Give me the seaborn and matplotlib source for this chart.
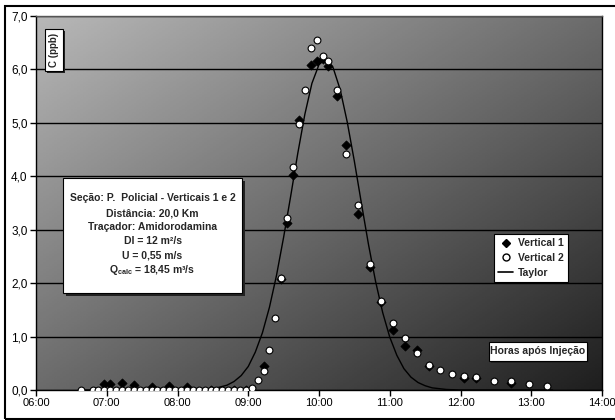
import numpy as np
import pandas as pd
import matplotlib
matplotlib.use('Agg')
import matplotlib.pyplot as plt
import seaborn as sns
from matplotlib.patches import Rectangle
from matplotlib.lines import Line2D

# Vertical 2 (open circles), time after injection and concentration (ppb)
v2_time = ['06:38', '06:48', '06:53', '06:58', '07:03', '07:08', '07:13', '07:18', '07:23',
           '07:28', '07:33', '07:38', '07:43', '07:48', '07:53', '07:58', '08:03', '08:08',
           '08:13', '08:18', '08:23', '08:28', '08:33', '08:38', '08:43', '08:48', '08:53',
           '08:58', '09:03', '09:08', '09:13', '09:18', '09:23', '09:28', '09:33', '09:38',
           '09:43', '09:48', '09:53', '09:58', '10:03', '10:08', '10:15', '10:23', '10:33',
           '10:43', '10:53', '11:03', '11:13', '11:23', '11:33', '11:43', '11:53', '12:03',
           '12:13', '12:28', '12:43', '12:58', '13:13']
v2_conc = [0.0, 0.0, 0.0, 0.0, 0.0, 0.0, 0.0, 0.0, 0.0,
           0.0, 0.0, 0.0, 0.0, 0.0, 0.0, 0.0, 0.0, 0.0,
           0.0, 0.0, 0.0, 0.0, 0.0, 0.0, 0.0, 0.0, 0.0,
           0.0, 0.04, 0.19, 0.36, 0.75, 1.35, 2.10, 3.22, 4.17,
           4.97, 5.61, 6.40, 6.56, 6.25, 6.16, 5.61, 4.41, 3.46,
           2.35, 1.67, 1.25, 0.97, 0.70, 0.47, 0.37, 0.30, 0.26,
           0.25, 0.17, 0.16, 0.11, 0.08]

# Vertical 1 (black diamonds)
v1_time = ['06:58', '07:03', '07:13', '07:23', '07:38', '07:53', '08:08', '08:28', '08:48',
           '08:58', '09:13', '09:28', '09:33', '09:38', '09:43', '09:53', '09:58', '10:03',
           '10:08', '10:15', '10:23', '10:33', '10:43', '10:53', '11:03', '11:13', '11:23',
           '11:33', '12:03', '12:13', '12:43']
v1_conc = [0.12, 0.12, 0.13, 0.10, 0.06, 0.08, 0.05, 0.0, 0.0,
           0.0, 0.45, 2.07, 3.13, 4.02, 5.06, 6.09, 6.16, 6.20,
           6.07, 5.50, 4.58, 3.29, 2.30, 1.65, 1.12, 0.83, 0.75,
           0.45, 0.22, 0.22, 0.14]

# Taylor model curve (hours, ppb)
taylor_h = [6.63, 8.0, 8.5, 8.7, 8.8, 8.9, 9.0, 9.1, 9.2, 9.3, 9.4, 9.5, 9.6, 9.7,
            9.8, 9.9, 10.0, 10.1, 10.2, 10.3, 10.4, 10.5, 10.6, 10.7, 10.8, 10.9,
            11.0, 11.1, 11.2, 11.3, 11.4, 11.5, 11.6, 11.8, 12.0, 13.3]
taylor_c = [0.0, 0.0, 0.02, 0.09, 0.16, 0.27, 0.44, 0.71, 1.07, 1.55, 2.15, 2.86, 3.63, 4.43,
            5.16, 5.74, 6.09, 6.20, 6.03, 5.62, 5.01, 4.28, 3.49, 2.72, 2.03, 1.45,
            0.99, 0.65, 0.40, 0.24, 0.14, 0.08, 0.04, 0.01, 0.0, 0.0]

x_ticks = ['06:00', '07:00', '08:00', '09:00', '10:00', '11:00', '12:00', '13:00', '14:00']
y_ticks = ['0,0', '1,0', '2,0', '3,0', '4,0', '5,0', '6,0', '7,0']

info_lines = ['Seção: P.  Policial - Verticais 1 e 2', 'Distância: 20,0 Km',
              'Traçador: Amidorodamina', 'Dl = 12 m²/s', 'U = 0,55 m/s',
              r'Q$_{\mathbf{calc}}$ = 18,45 m³/s']


def to_hours(s):
    h, m = s.split(':')
    return int(h) + int(m) / 60


df1 = pd.DataFrame({'t': [to_hours(s) for s in v1_time], 'c': v1_conc})
df2 = pd.DataFrame({'t': [to_hours(s) for s in v2_time], 'c': v2_conc})
dft = pd.DataFrame({'t': taylor_h, 'c': taylor_c})

sns.set_style('white')
plt.rcParams['font.family'] = ['Liberation Sans', 'DejaVu Sans']
plt.rcParams['mathtext.fontset'] = 'custom'
plt.rcParams['mathtext.bf'] = 'Liberation Sans:bold'
plt.rcParams['mathtext.rm'] = 'Liberation Sans'

W, H = 615, 420
fig = plt.figure(figsize=(6.15, 4.2), dpi=100)
ax = fig.add_axes([36 / W, 30 / H, 566 / W, 374 / H])

# diagonal gray gradient for the plot area
gy, gx = np.mgrid[0:1:200j, 0:1:200j]
grad = 0.72 - 0.6 * (0.5 * gx + 0.5 * gy)
ax.imshow(grad, cmap='gray', vmin=0, vmax=1, extent=(6, 14, 0, 7), origin='upper',
          aspect='auto', zorder=0.1, interpolation='bilinear')

sns.lineplot(data=dft, x='t', y='c', color='black', lw=1, ax=ax, zorder=2, sort=False)
sns.scatterplot(data=df1, x='t', y='c', marker='D', s=22, color='black', edgecolor='black',
                linewidth=0.5, ax=ax, zorder=3)
sns.scatterplot(data=df2, x='t', y='c', marker='o', s=24, color='white', edgecolor='black',
                linewidth=0.8, ax=ax, zorder=4)

ax.set_xlim(6, 14)
ax.set_ylim(0, 7)
ax.set_xticks(range(6, 15))
ax.set_xticklabels(x_ticks)
ax.set_yticks(range(0, 8))
ax.set_yticklabels(y_ticks)
ax.yaxis.grid(True, color='black', lw=1)
ax.xaxis.grid(False)
ax.set_xlabel('')
ax.set_ylabel('')
ax.tick_params(direction='out', length=4, width=1, labelsize=8, colors='black', pad=2,
               left=True, bottom=True)
ax.tick_params(axis='y', labelsize=8.5)
for side in ['left', 'bottom', 'right']:
    ax.spines[side].set_color('black')
    ax.spines[side].set_linewidth(1)
ax.spines['top'].set_color('#555555')
ax.spines['top'].set_linewidth(1)


def box(x0, y0, x1, y1, shadow=3):
    # pixel coords from the top-left of the figure
    fig.patches.append(Rectangle(((x0 + shadow) / W, (H - y1 - shadow) / H), (x1 - x0) / W,
                                 (y1 - y0) / H, transform=fig.transFigure, fc='#222222',
                                 ec='none', zorder=5))
    fig.patches.append(Rectangle((x0 / W, (H - y1) / H), (x1 - x0) / W, (y1 - y0) / H,
                                 transform=fig.transFigure, fc='white', ec='black',
                                 lw=0.8, zorder=6))


box(63, 178, 242, 293)
line_y = [198, 213, 227.5, 241.5, 256, 270]
for txt, yy in zip(info_lines, line_y):
    fig.text(152.5 / W, 1 - yy / H, txt, ha='center', va='center', fontsize=7.5,
             fontweight='bold', zorder=7)

box(45, 29, 63, 71, shadow=2)
fig.text(54 / W, 1 - 50 / H, 'C (ppb)', rotation=90, ha='center', va='center',
         fontsize=7, fontweight='bold', zorder=7)

box(489, 342, 587, 361, shadow=2)
fig.text(538 / W, 1 - 351.5 / H, 'Horas após Injeção', ha='center', va='center',
         fontsize=7.5, fontweight='bold', zorder=7)

handles = [Line2D([], [], marker='D', color='black', ls='none', ms=4.5),
           Line2D([], [], marker='o', mfc='white', mec='black', ls='none', ms=5),
           Line2D([], [], color='black', lw=1.2)]
leg = fig.legend(handles, ['Vertical 1', 'Vertical 2', 'Taylor'], loc='upper left',
                 bbox_to_anchor=(489 / W, 1 - 229 / H), prop={'weight': 'bold', 'size': 7.5},
                 frameon=True, fancybox=False, edgecolor='black', framealpha=1,
                 handlelength=1.4, handletextpad=0.5, labelspacing=0.45, borderpad=0.4)
leg.get_frame().set_linewidth(0.8)

# outer chart frame
fig.patches.append(Rectangle((5 / W, 1 / H), 1.2, (418 - 5) / H, transform=fig.transFigure,
                             fill=False, ec='black', lw=1.5, zorder=10))

fig.savefig('out.png', dpi=100)
